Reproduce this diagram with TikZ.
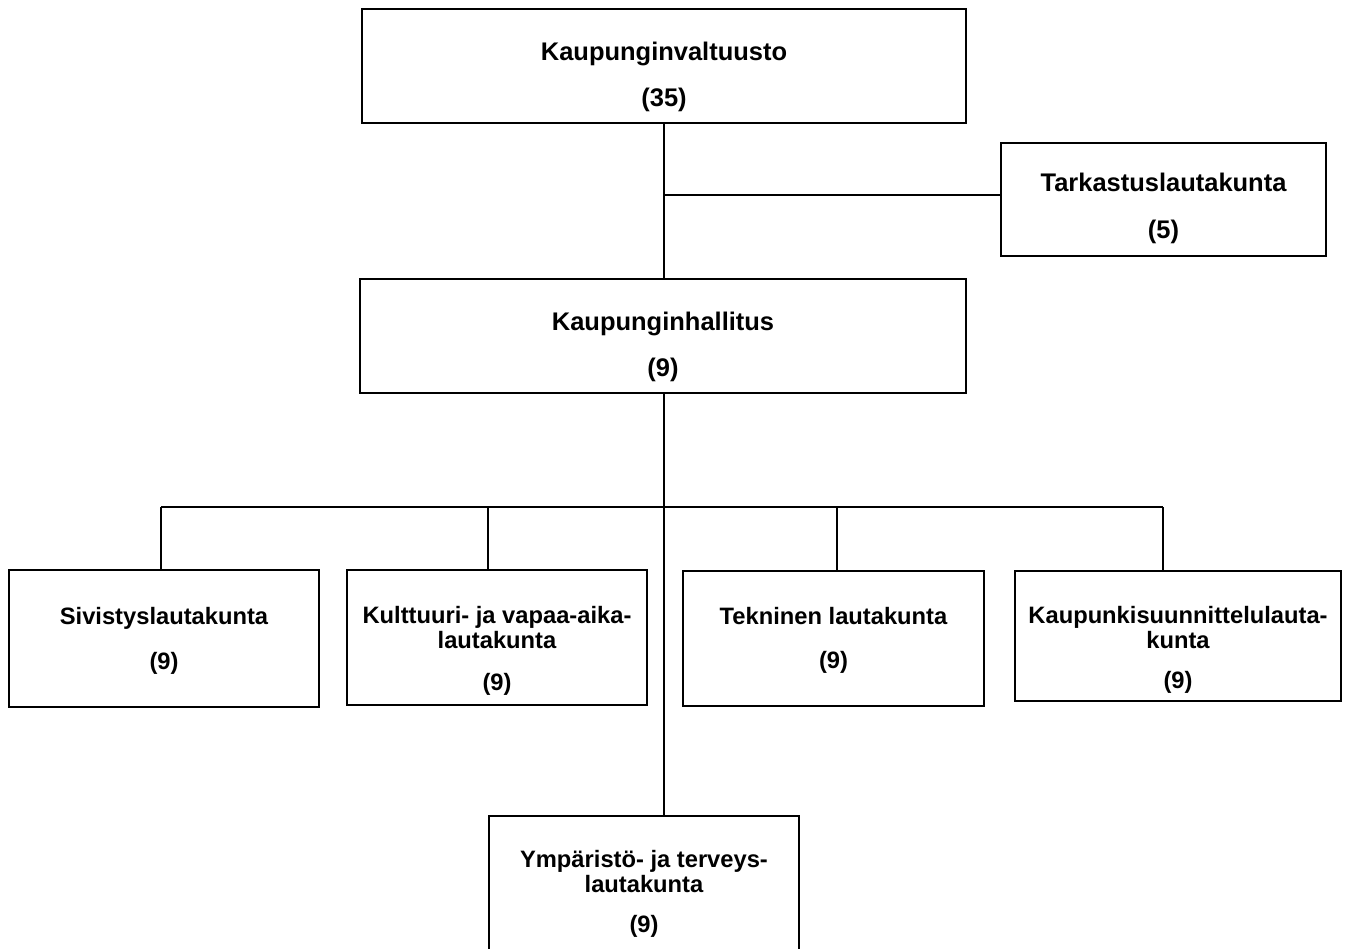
\documentclass[tikz,border=0pt]{standalone}
\usepackage{fontspec}
\newfontfamily\orgfont{Liberation Sans}
\usetikzlibrary{calc}

\tikzset{
	elin/.style args={#1x#2}{draw, line width=1.1pt, minimum width=#1*0.02cm, minimum height=#2*0.02cm, inner sep=0pt},
	nimi/.style={anchor=base, inner sep=0pt, font=\orgfont\bfseries\fontsize{14.5}{17}\selectfont},
	pieni/.style={anchor=base, inner sep=0pt, font=\orgfont\bfseries\fontsize{13.5}{16}\selectfont},
	yhteys/.style={draw, line width=0.6pt}
}

\begin{document}
\begin{tikzpicture}[x=0.02cm, y=-0.02cm]
	\useasboundingbox (0,0) rectangle (1351,948);
	\clip (0,0) rectangle (1351,948);

	% luottamuselimet
	\node [elin=604x114] (valtuusto) at (664,66) {};
	\node [elin=325x113] (tarkastus) at (1163.5,199.5) {};
	\node [elin=606x114] (hallitus) at (663,336) {};
	\node [elin=310x137] (sivistys) at (164,638.5) {};
	\node [elin=300x135] (kulttuuri) at (497,637.5) {};
	\node [elin=301x135] (tekninen) at (833.5,638.5) {};
	\node [elin=326x130] (kaupsuun) at (1178,636) {};
	\node [elin=310x150] (ymparisto) at (644,891) {};

	% tekstit
	\node [nimi] (valtuusto-n) at (664,60) {Kaupunginvaltuusto};
	\node [nimi] (valtuusto-l) at (664,106) {(35)};
	\node [nimi] (tarkastus-n) at (1163.5,191) {Tarkastuslautakunta};
	\node [nimi] (tarkastus-l) at (1163.5,238) {(5)};
	\node [nimi] (hallitus-n) at (663,330) {Kaupunginhallitus};
	\node [nimi] (hallitus-l) at (663,376) {(9)};
	\node [pieni] (sivistys-n) at (164,624) {Sivistyslautakunta};
	\node [pieni] (sivistys-l) at (164,669) {(9)};
	\node [pieni] (kulttuuri-n) at (497,623) {Kulttuuri- ja vapaa-aika-};
	\node [pieni] (kulttuuri-n2) at (497,648) {lautakunta};
	\node [pieni] (kulttuuri-l) at (497,690) {(9)};
	\node [pieni] (tekninen-n) at (833.5,624) {Tekninen lautakunta};
	\node [pieni] (tekninen-l) at (833.5,668) {(9)};
	\node [pieni] (kaupsuun-n) at (1178,623) {Kaupunkisuunnittelulauta-};
	\node [pieni] (kaupsuun-n2) at (1178,648) {kunta};
	\node [pieni] (kaupsuun-l) at (1178,688) {(9)};
	\node [pieni] (ymparisto-n) at (644,867) {Ympäristö- ja terveys-};
	\node [pieni] (ymparisto-n2) at (644,892) {lautakunta};
	\node [pieni] (ymparisto-l) at (644,932) {(9)};

	% yhteydet
	\coordinate (haara) at (664,195);
	\coordinate (vasen) at (161,507);
	\coordinate (kulttuuri-y) at (488,507);
	\coordinate (keski) at (664,507);
	\coordinate (tekninen-y) at (837,507);
	\coordinate (oikea) at (1163,507);
	\draw [yhteys] (valtuusto.south -| haara) -- (hallitus.north -| haara);
	\draw [yhteys] (haara) -- (tarkastus.west |- haara);
	\draw [yhteys] (hallitus.south -| keski) -- (keski);
	\draw [yhteys] (vasen) -- (oikea);
	\draw [yhteys] (vasen) -- (vasen |- sivistys.north);
	\draw [yhteys] (kulttuuri-y) -- (kulttuuri-y |- kulttuuri.north);
	\draw [yhteys] (tekninen-y) -- (tekninen-y |- tekninen.north);
	\draw [yhteys] (oikea) -- (oikea |- kaupsuun.north);
	\draw [yhteys] (keski) -- (keski |- ymparisto.north);
\end{tikzpicture}
\end{document}
